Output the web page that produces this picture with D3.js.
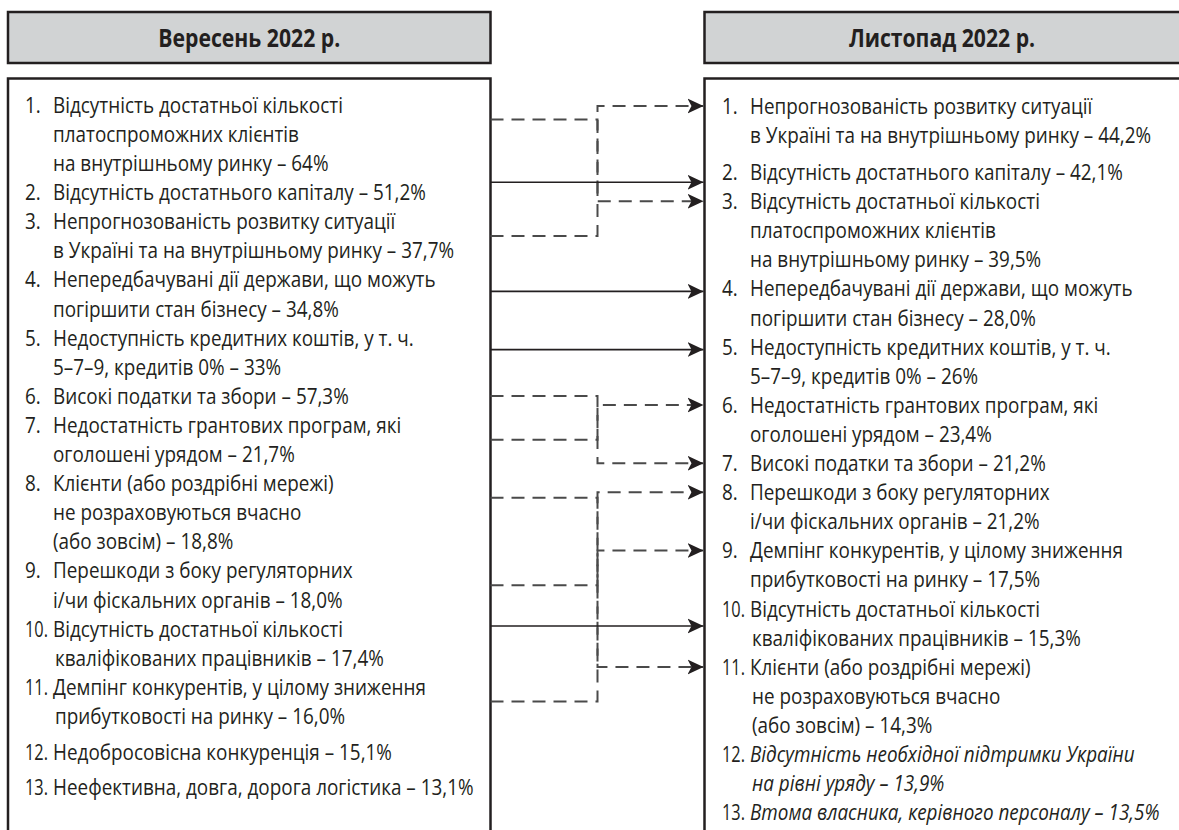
<!DOCTYPE html>
<html><head><meta charset="utf-8">
<script src="https://cdn.jsdelivr.net/npm/d3@7"></script>
<style>html,body{margin:0;padding:0;background:#fff;} svg{display:block;}</style>
</head><body>
<svg id="c" width="1179" height="830"></svg>
<script>
// ---------------- DATA ----------------
const periods = ["Вересень 2022 р.", "Листопад 2022 р."];

const septLabels = [
  ["Відсутність достатньої кількості", "платоспроможних клієнтів", "на внутрішньому ринку"],
  ["Відсутність достатнього капіталу"],
  ["Непрогнозованість розвитку ситуації", "в Україні та на внутрішньому ринку"],
  ["Непередбачувані дії держави, що можуть", "погіршити стан бізнесу"],
  ["Недоступність кредитних коштів, у т. ч.", "5–7–9, кредитів 0%"],
  ["Високі податки та збори"],
  ["Недостатність грантових програм, які", "оголошені урядом"],
  ["Клієнти (або роздрібні мережі)", "не розраховуються вчасно", "(або зовсім)"],
  ["Перешкоди з боку регуляторних", "і/чи фіскальних органів"],
  ["Відсутність достатньої кількості", "кваліфікованих працівників"],
  ["Демпінг конкурентів, у цілому зниження", "прибутковості на ринку"],
  ["Недобросовісна конкуренція"],
  ["Неефективна, довга, дорога логістика"]
];
const septValues = ["64%", "51,2%", "37,7%", "34,8%", "33%", "57,3%", "21,7%", "18,8%", "18,0%", "17,4%", "16,0%", "15,1%", "13,1%"];

const novLabels = [
  ["Непрогнозованість розвитку ситуації", "в Україні та на внутрішньому ринку"],
  ["Відсутність достатнього капіталу"],
  ["Відсутність достатньої кількості", "платоспроможних клієнтів", "на внутрішньому ринку"],
  ["Непередбачувані дії держави, що можуть", "погіршити стан бізнесу"],
  ["Недоступність кредитних коштів, у т. ч.", "5–7–9, кредитів 0%"],
  ["Недостатність грантових програм, які", "оголошені урядом"],
  ["Високі податки та збори"],
  ["Перешкоди з боку регуляторних", "і/чи фіскальних органів"],
  ["Демпінг конкурентів, у цілому зниження", "прибутковості на ринку"],
  ["Відсутність достатньої кількості", "кваліфікованих працівників"],
  ["Клієнти (або роздрібні мережі)", "не розраховуються вчасно", "(або зовсім)"],
  ["Відсутність необхідної підтримки України", "на рівні уряду"],
  ["Втома власника, керівного персоналу"]
];
const novValues = ["44,2%", "42,1%", "39,5%", "28,0%", "26%", "23,4%", "21,2%", "21,2%", "17,5%", "15,3%", "14,3%", "13,9%", "13,5%"];

// ---------------- LAYOUT / STYLE ----------------
const W = 1179, H = 830;
const INK = "#231f20", HEAD_FILL = "#d1d3d4", DASH = "#4a4a4a";
const FONT = "'Open Sans', 'Noto Sans', 'DejaVu Sans', sans-serif";
const BODY_SIZE = 22, HEAD_SIZE = 25, BODY_WEIGHT = 500;
const cols = [
  {x0: 8, x1: 490.5, numX: 25, textX: 53, firstY: 105, step: 29.1, gaps: {12: 7, 13: 6}},
  {x0: 704.5, x1: 1190, numX: 722, textX: 750, firstY: 106, step: 29.1, gaps: {2: 8}}
];
const headY0 = 12, headY1 = 63, boxTop = 78.5;

function draw() {
const svg = d3.select("#c");
const defs = svg.append("defs");
defs.append("marker").attr("id", "arr")
  .attr("viewBox", "-16 -8 16 16").attr("refX", 0).attr("refY", 0)
  .attr("markerUnits", "userSpaceOnUse").attr("markerWidth", 16).attr("markerHeight", 16)
  .attr("orient", "auto")
  .append("path").attr("d", "M0,0 L-16,-7.5 L-12,0 L-16,7.5 Z").attr("fill", INK);

function measure(str, size, weight, style) {
  const t = svg.append("text").attr("font-family", FONT).attr("font-size", size)
    .attr("font-weight", weight || "normal").attr("font-style", style || "normal").text(str);
  const w = t.node().getComputedTextLength();
  t.remove();
  return w;
}
const bodySx = 373 / measure("Відсутність достатнього капіталу – 51,2%", BODY_SIZE, BODY_WEIGHT);
const headSx = 182 / measure("Вересень 2022 р.", HEAD_SIZE, "bold");
const numMax = 23;

function buildItems(labels, values, col, isNewFn) {
  const yLine = d3.scaleLinear().domain([0, 1]).range([col.firstY, col.firstY + col.step]);
  let g = 0, extra = 0;
  return labels.map((lines, i) => {
    const rank = i + 1;
    extra += (col.gaps[rank] || 0);
    const texts = lines.map((l, k) => k === lines.length - 1 ? l + " – " + values[i] : l);
    const ys = texts.map((_, k) => yLine(g + k) + extra);
    g += lines.length;
    return {rank, key: lines.join(" "), texts, ys, italic: isNewFn ? isNewFn(lines) : false};
  });
}
const septItems = buildItems(septLabels, septValues, cols[0]);
const septKeys = new Set(septItems.map(d => d.key));
const novItems = buildItems(novLabels, novValues, cols[1], lines => !septKeys.has(lines.join(" ")));

// boxes
cols.forEach((c, ci) => {
  svg.append("rect").attr("x", c.x0).attr("y", headY0).attr("width", c.x1 - c.x0).attr("height", headY1 - headY0)
    .attr("fill", HEAD_FILL).attr("stroke", INK).attr("stroke-width", 2.5);
  svg.append("rect").attr("x", c.x0).attr("y", boxTop).attr("width", c.x1 - c.x0).attr("height", H + 20 - boxTop)
    .attr("fill", "#fff").attr("stroke", INK).attr("stroke-width", 2.5);
  const cx = ci === 0 ? (c.x0 + c.x1) / 2 : 942;
  svg.append("text").attr("transform", `translate(${cx},${(headY0 + headY1) / 2 + 9}) scale(${headSx},1)`)
    .attr("text-anchor", "middle").attr("font-family", FONT).attr("font-size", HEAD_SIZE)
    .attr("font-weight", "bold").attr("fill", INK).text(periods[ci]);
});

// text
function drawItems(items, col) {
  const g = svg.append("g").attr("font-family", FONT).attr("font-size", BODY_SIZE)
    .attr("font-weight", BODY_WEIGHT).attr("fill", INK);
  items.forEach(it => {
    const num = g.append("text").text(it.rank + ".");
    const nw = num.node().getComputedTextLength() * bodySx;
    const nsx = nw > numMax ? bodySx * numMax / nw : bodySx;
    num.attr("transform", `translate(${col.numX},${it.ys[0] + 7.8}) scale(${nsx},1)`);
    it.texts.forEach((t, k) => {
      g.append("text").attr("transform", `translate(${col.textX + (k > 0 && it.rank >= 10 ? 2 : 0)},${it.ys[k] + 7.8}) scale(${bodySx},1)`)
        .attr("font-style", it.italic ? "italic" : "normal").text(t);
    });
  });
}
drawItems(septItems, cols[0]);
drawItems(novItems, cols[1]);

// connectors
const leftAnchor = it => it.ys.length > 1 ? (it.ys[0] + it.ys[1]) / 2 : it.ys[0];
const rightAnchor = it => it.ys[0];
const xL = cols[0].x1, xR = cols[1].x0 - 1, xMid = (cols[0].x1 + cols[1].x0) / 2;
const links = [];
septItems.forEach(s => {
  const n = novItems.find(d => d.key === s.key);
  if (n) links.push({s, n, same: s.rank === n.rank});
});
const cg = svg.append("g").attr("fill", "none");
links.forEach(l => {
  if (l.same) {
    const y = (leftAnchor(l.s) + rightAnchor(l.n)) / 2;
    cg.append("path").attr("d", `M${xL},${y}H${xR}`).attr("stroke", INK).attr("stroke-width", 1.6)
      .attr("marker-end", "url(#arr)");
  } else {
    const yl = leftAnchor(l.s), yr = rightAnchor(l.n);
    cg.append("path").attr("d", `M${xL},${yl}H${xMid}V${yr}H${xR}`).attr("stroke", DASH).attr("stroke-width", 2)
      .attr("stroke-dasharray", "13,8").attr("marker-end", "url(#arr)");
  }
});
}
if (document.fonts && document.fonts.ready) document.fonts.ready.then(draw); else draw();
</script>
</body></html>
